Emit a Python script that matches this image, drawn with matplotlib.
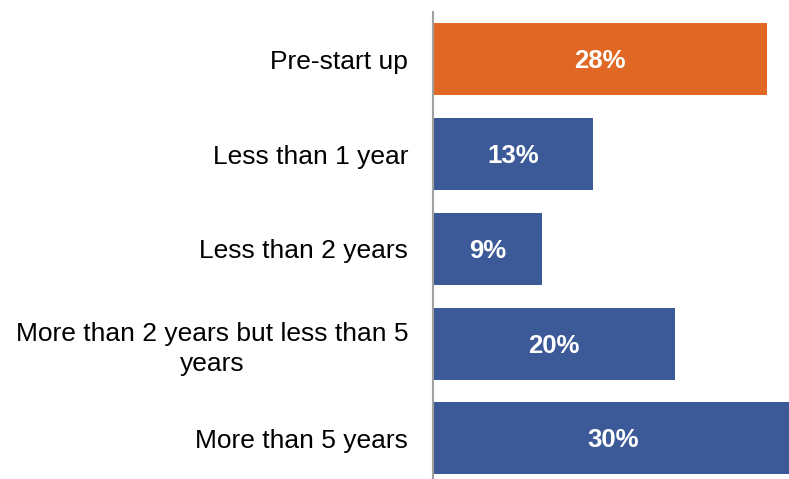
import matplotlib.pyplot as plt

categories = ['Pre-start up', 'Less than 1 year', 'Less than 2 years',
              'More than 2 years but less than 5\nyears', 'More than 5 years']
shares = [27.8, 13.3, 9.1, 20.2, 30.0]
colors = ['#E06824', '#3C5A98', '#3C5A98', '#3C5A98', '#3C5A98']

plt.rcParams['font.family'] = ['Liberation Sans', 'DejaVu Sans']

fig = plt.figure(figsize=(7.89, 4.79), dpi=100)
ax = fig.add_axes([0.5488, -0.0142, 0.4563, 0.989])

pos = list(range(len(categories)))
ax.barh(pos, shares, height=0.76, color=colors)
for p, v in zip(pos, shares):
    ax.text(v / 2, p + 0.02, f'{v:.0f}%', ha='center', va='center',
            color='white', fontsize=18.5, fontweight='bold')

ax.set_yticks(pos)
ax.set_yticklabels(categories, fontsize=19)
for lab in ax.get_yticklabels():
    lab.set_multialignment('center')
    lab.set_linespacing(1.3)
ax.tick_params(axis='y', length=0, pad=18)
ax.set_xticks([])
ax.set_xlim(0, 30)
ax.set_ylim(4.5, -0.5)

for s in ['top', 'right', 'bottom']:
    ax.spines[s].set_visible(False)
ax.spines['left'].set_color('#a0a0a0')
ax.spines['left'].set_linewidth(1.5)

fig.savefig('out.png', dpi=100)
